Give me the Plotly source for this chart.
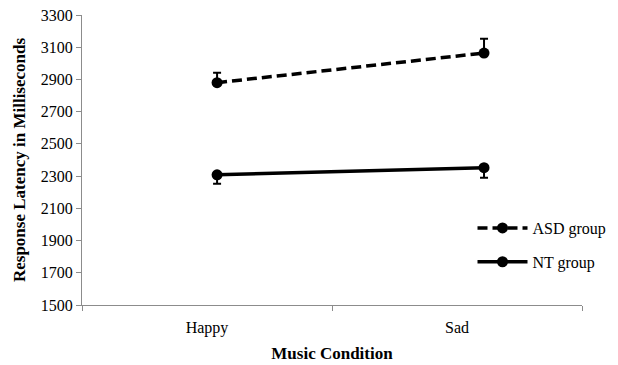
import plotly.graph_objects as go

# Mean response latency (ms) by music condition, with standard error
conditions = ["Happy", "Sad"]
asd_means = [2880, 3064]
asd_err = [62, 88]
nt_means = [2308, 2352]
nt_err = [55, 62]

y_ticks = [1500, 1700, 1900, 2100, 2300, 2500, 2700, 2900, 3100, 3300]

serif = "'Liberation Serif', 'Times New Roman', serif"
axis_grey = "#8c8c8c"

fig = go.Figure()

fig.add_trace(go.Scatter(
    x=conditions, y=asd_means, name="ASD group", mode="lines+markers",
    legendgroup="asd",
    line=dict(color="black", width=3.5, dash="10px,5px"),
    marker=dict(size=11, color="black"),
    error_y=dict(type="data", symmetric=False, array=asd_err,
                 arrayminus=[0] * len(asd_err), color="black",
                 thickness=2, width=4),
))
fig.add_trace(go.Scatter(
    x=conditions, y=nt_means, name="NT group", mode="lines+markers",
    legendgroup="nt",
    line=dict(color="black", width=3.5),
    marker=dict(size=11, color="black"),
    error_y=dict(type="data", symmetric=False, array=[0] * len(nt_err),
                 arrayminus=nt_err, color="black",
                 thickness=2, width=4),
))

fig.update_layout(
    width=618, height=365,
    margin=dict(l=82, r=36, t=15, b=60, autoexpand=False),
    paper_bgcolor="white", plot_bgcolor="white",
    font=dict(family=serif, size=16, color="black"),
    showlegend=True,
    legend=dict(x=0.781, y=0.324, xanchor="left", yanchor="top",
                font=dict(family=serif, size=16, color="black"),
                bgcolor="rgba(0,0,0,0)", tracegroupgap=10,
                itemwidth=50),
    xaxis=dict(type="category", visible=False, automargin=False,
               range=[-0.506, 1.367], fixedrange=True),
    xaxis2=dict(overlaying="x", anchor="y", range=[0, 2], automargin=False,
                showline=True, linecolor=axis_grey, linewidth=1.2,
                showgrid=False, zeroline=False,
                tickvals=[0.5, 1.5], ticktext=conditions, ticks="",
                ticklabelstandoff=8,
                minor=dict(tickvals=[0, 1, 2], ticks="outside",
                           ticklen=5, tickcolor=axis_grey, tickwidth=1.2),
                tickfont=dict(family=serif, size=16),
                title=dict(text="<b>Music Condition</b>",
                           font=dict(family=serif, size=17), standoff=10)),
    yaxis=dict(range=[1500, 3300], tickvals=y_ticks, automargin=False,
               showline=True, linecolor=axis_grey, linewidth=1.2,
               showgrid=False, zeroline=False,
               ticks="outside", ticklen=5, tickcolor=axis_grey, tickwidth=1.2,
               tickfont=dict(family=serif, size=16),
               title=dict(text="<b>Response Latency in Milliseconds</b>",
                          font=dict(family=serif, size=17), standoff=10)),
)

# anchor xaxis2 so it is drawn alongside the data axis
fig.add_trace(go.Scatter(x=[0, 2], y=[None, None], xaxis="x2",
                         showlegend=False, hoverinfo="skip"))

fig.write_html("out.html")
